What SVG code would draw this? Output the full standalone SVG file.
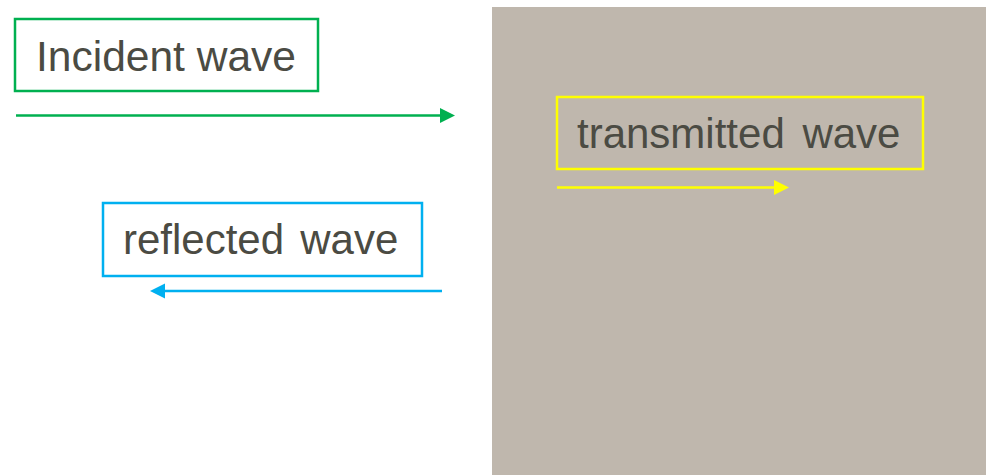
<svg xmlns="http://www.w3.org/2000/svg" width="986" height="475" viewBox="0 0 986 475">
<style>
.lbl{font-family:"Liberation Sans",Arial,sans-serif;font-size:42px;fill:#4B4B43}
.box{fill:none;stroke-width:2.5}
.conn{stroke-width:2.5;fill:none}
</style>
<defs>
<marker id="hg" markerUnits="userSpaceOnUse" markerWidth="16" markerHeight="16" refX="0" refY="7.5" orient="auto"><path d="M0,0 L15,7.5 L0,15 z" fill="#00B050"/></marker>
<marker id="hy" markerUnits="userSpaceOnUse" markerWidth="16" markerHeight="16" refX="0" refY="7.5" orient="auto"><path d="M0,0 L15,7.5 L0,15 z" fill="#FFFF00"/></marker>
<marker id="hb" markerUnits="userSpaceOnUse" markerWidth="16" markerHeight="16" refX="0" refY="7.5" orient="auto"><path d="M0,0 L15,7.5 L0,15 z" fill="#00B0F0"/></marker>
</defs>
<rect x="0" y="0" width="986" height="475" fill="#FFFFFF"/>
<rect id="medium" x="492" y="7" width="494" height="468" fill="#BFB7AD"/>
<g id="incident">
<rect class="box" x="15" y="19" width="303" height="72" stroke="#00B050"/>
<text class="lbl" x="36" y="71" textLength="260" lengthAdjust="spacingAndGlyphs">Incident wave</text>
</g>
<g id="transmitted">
<rect class="box" x="557" y="97" width="366" height="72" stroke="#FFFF00"/>
<text class="lbl" x="577" y="148" word-spacing="6">transmitted wave</text>
</g>
<g id="reflected">
<rect class="box" x="103" y="203" width="319" height="73" stroke="#00B0F0"/>
<text class="lbl" x="123" y="254" word-spacing="4.5">reflected wave</text>
</g>
<g id="connectors">
<line class="conn" x1="16" y1="115.5" x2="440" y2="115.5" stroke="#00B050" marker-end="url(#hg)"/>
<line class="conn" x1="557" y1="187.5" x2="774" y2="187.5" stroke="#FFFF00" marker-end="url(#hy)"/>
<line class="conn" x1="442" y1="291" x2="165" y2="291" stroke="#00B0F0" marker-end="url(#hb)"/>
</g>
</svg>
